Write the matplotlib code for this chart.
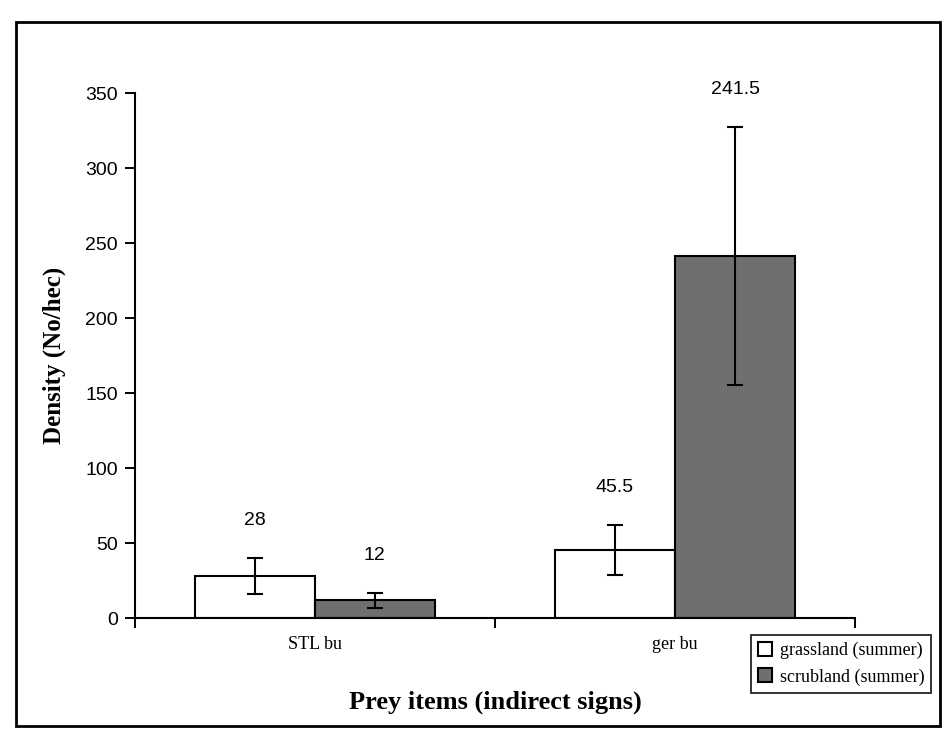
import numpy as np
import matplotlib.pyplot as plt
from matplotlib.patches import Rectangle

# data
categories = ['STL bu', 'ger bu']
grassland = [28, 45.5]
scrubland = [12, 241.5]
grass_err = [12, 16.5]
scrub_err = [5, 86]
series_names = ['grassland (summer)', 'scrubland (summer)']

fig = plt.figure(figsize=(9.49, 7.45), dpi=100)
ax = fig.add_axes([0.142, 0.170, 0.759, 0.705])

x = np.arange(len(categories))
w = 1 / 3.
b1 = ax.bar(x - w / 2, grassland, w, color='white', edgecolor='black', linewidth=1.5,
            label=series_names[0])
b2 = ax.bar(x + w / 2, scrubland, w, color='#6f6f6f', edgecolor='black', linewidth=1.5,
            label=series_names[1])
ax.errorbar(x - w / 2, grassland, yerr=grass_err, fmt='none', ecolor='black',
            elinewidth=1.5, capsize=6, capthick=1.5)
ax.errorbar(x + w / 2, scrubland, yerr=scrub_err, fmt='none', ecolor='black',
            elinewidth=1.5, capsize=6, capthick=1.5)

# value labels above the error bars
for xs, vals, errs in [(x - w / 2, grassland, grass_err), (x + w / 2, scrubland, scrub_err)]:
    for xi, v, e in zip(xs, vals, errs):
        ax.annotate(f'{v:g}', (xi, v + e), xytext=(0, 21), textcoords='offset points',
                    ha='center', va='bottom', fontsize=14, family='Liberation Sans')

ax.set_xlim(-0.5, 1.5)
ax.set_ylim(0, 350)
ax.set_yticks(np.arange(0, 351, 50))
ax.set_xticks([-0.5, 0.5, 1.5])
ax.set_xticklabels([])
ax.tick_params(axis='y', direction='out', length=7, width=1.4, labelsize=14, pad=5)
ax.tick_params(axis='x', direction='out', length=7, width=1.4)
for lab in ax.get_yticklabels():
    lab.set_family('Liberation Sans')
for s in ['top', 'right']:
    ax.spines[s].set_visible(False)
for s in ['left', 'bottom']:
    ax.spines[s].set_linewidth(1.5)

# category labels under each group
for xi, c in zip(x, categories):
    ax.text(xi, -12, c, ha='center', va='top', fontsize=13, family='Liberation Serif')

ax.set_ylabel('Density (No/hec)', fontsize=18, fontweight='bold', family='Liberation Serif',
              labelpad=14)
fig.text(0.522, 0.058, 'Prey items (indirect signs)', ha='center', va='center',
         fontsize=19, fontweight='bold', family='Liberation Serif')

leg = fig.legend(handles=[b1, b2], loc='lower right', bbox_to_anchor=(0.991, 0.058),
                 frameon=True, fancybox=False, edgecolor='black',
                 prop={'family': 'Liberation Serif', 'size': 13},
                 handlelength=0.8, handleheight=0.8, handletextpad=0.4,
                 borderpad=0.4, labelspacing=0.5)
leg.get_frame().set_linewidth(1.4)

# outer chart border
fig.patches.append(Rectangle((0.017, 0.025), 0.973, 0.945, transform=fig.transFigure,
                             fill=False, edgecolor='black', linewidth=2))

fig.savefig('out.png', dpi=100)
